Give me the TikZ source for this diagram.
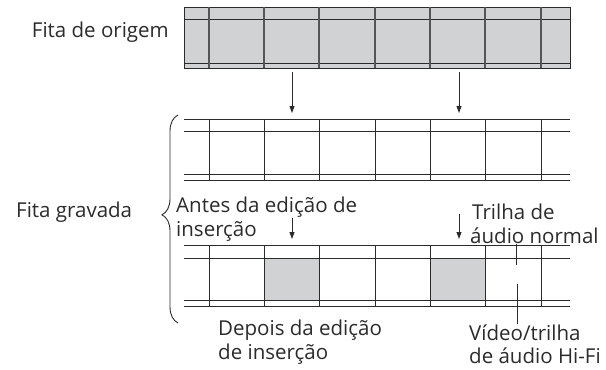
\documentclass[tikz,border=0pt]{standalone}
\usepackage{fontspec}
\setmainfont{Open Sans}
\usepackage{xcolor}
\usetikzlibrary{arrows.meta,positioning,decorations.pathreplacing}
\definecolor{ink}{HTML}{2B2B2B}
\definecolor{frame}{HTML}{D1D2D4}

\begin{document}
\begin{tikzpicture}[x=1pt,y=-1pt,font=\fontsize{20.5}{23.5}\selectfont,text=ink,
  tape/.style={draw=ink,line width=0.9pt},
  lab/.style={inner sep=0pt,align=left},
  ar/.style={-{Triangle[length=7pt,width=5pt]},draw=ink,line width=0.9pt},
  lead/.style={draw=ink,line width=0.9pt}]
\useasboundingbox (0,0) rectangle (606,370);
% source tape
\fill[frame] (184,7) rectangle (570,68);
\draw[tape] (184,7) rectangle (570,68);
\foreach \y in {19,63} \draw[tape] (184,\y) -- (570,\y);
\foreach \x in {209,264,319,375,430,485,541} \draw[tape,line width=1.3pt,draw=ink!80] (\x,7) -- (\x,68);
% recorded tape, before
\foreach \y in {119,131,174,180} \draw[tape] (184,\y) -- (570,\y);
\foreach \x in {209,264,319,375,430,485,541} \draw[tape] (\x,119) -- (\x,180);
% recorded tape, after
\fill[frame] (264,258) rectangle (319,300);
\fill[frame] (430,258) rectangle (485,300);
\foreach \y in {245,258,300,306} \draw[tape] (184,\y) -- (570,\y);
\foreach \x in {209,264,319,375,430,485,541} \draw[tape] (\x,245) -- (\x,306);
% labels
\node[lab,anchor=east] (orig) at (169,32) {Fita de origem};
\node[lab,anchor=west] (grav) at (16,212) {Fita gravada};
\node[lab,anchor=west] (antes) at (176,219) {Antes da edição de\\inserção};
\node[lab,anchor=west] (norm) at (470,224) {\hspace*{2pt}Trilha de\\áudio normal};
\node[lab,anchor=west] (depois) at (218,342) {Depois da edição\\de inserção};
\node[lab,anchor=west] (hifi) at (469,344) {Vídeo/trilha\\de áudio Hi-Fi};
% brace
\draw[draw=ink,line width=0.9pt,decorate,decoration={brace,amplitude=16pt,aspect=0.52}] (178,323) -- (178,115);
% arrows
\coordinate (a1) at (292,72);  \coordinate (b1) at (292,113);
\coordinate (a2) at (459,72);  \coordinate (b2) at (459,113);
\coordinate (c1) at (292,218); \coordinate (d1) at (292,239);
\coordinate (c2) at (459,214); \coordinate (d2) at (459,239);
\draw[ar] (a1) -- (b1);
\draw[ar] (a2) -- (b2);
\draw[ar] (c1) -- (d1);
\draw[ar] (c2) -- (d2);
% leaders
\coordinate (n1) at (516,265);
\coordinate (h1) at (517,284);
\draw[lead] (n1 |- norm.south) -- (n1);
\draw[lead] (h1) -- (h1 |- hifi.north);
\end{tikzpicture}
\end{document}
